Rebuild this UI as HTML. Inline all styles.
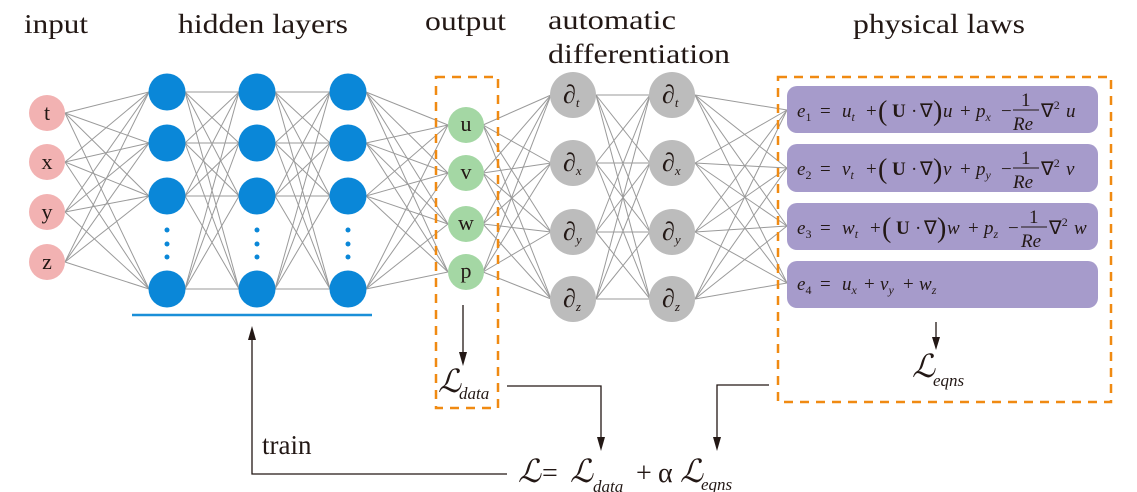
<!DOCTYPE html>
<html><head><meta charset="utf-8"><style>
html,body{margin:0;padding:0;background:#fff;}
svg{display:block;}
.lbl{font-family:"Liberation Serif",serif;font-size:27px;fill:#231815;}
.nd{font-family:"Liberation Serif",serif;font-size:22px;fill:#231815;text-anchor:middle;}
.eq{font-family:"Liberation Serif",serif;font-size:19px;fill:#231815;font-style:italic;}
.up{font-style:normal;}
.sub{font-size:12px;}
</style></head><body>
<svg id="s" width="1137" height="492" viewBox="0 0 1137 492" xmlns="http://www.w3.org/2000/svg">
<g id="edges" stroke="#9a9a9a" stroke-width="1" fill="none"></g>

<text class="lbl" x="24" y="33" textLength="64" lengthAdjust="spacingAndGlyphs">input</text>
<text class="lbl" x="178" y="33" textLength="170" lengthAdjust="spacingAndGlyphs">hidden layers</text>
<text class="lbl" x="425" y="30" textLength="81" lengthAdjust="spacingAndGlyphs">output</text>
<text class="lbl" x="548" y="29" textLength="128" lengthAdjust="spacingAndGlyphs">automatic</text>
<text class="lbl" x="548" y="63" textLength="182" lengthAdjust="spacingAndGlyphs">differentiation</text>
<text class="lbl" x="853" y="33" textLength="172" lengthAdjust="spacingAndGlyphs">physical laws</text>

<rect x="436" y="77" width="62" height="331" fill="none" stroke="#f08a12" stroke-width="2.5" stroke-dasharray="9,7"/>
<rect x="778" y="77" width="333" height="325" fill="none" stroke="#f08a12" stroke-width="2.5" stroke-dasharray="9,7"/>

<g id="nodes"></g>

<g fill="#0a87d8">
<circle cx="167" cy="230" r="2.5"/><circle cx="167" cy="244" r="2.5"/><circle cx="167" cy="257" r="2.5"/>
<circle cx="257" cy="230" r="2.5"/><circle cx="257" cy="244" r="2.5"/><circle cx="257" cy="257" r="2.5"/>
<circle cx="348" cy="230" r="2.5"/><circle cx="348" cy="244" r="2.5"/><circle cx="348" cy="257" r="2.5"/>
</g>
<line x1="132" y1="315" x2="372" y2="315" stroke="#1a8fd8" stroke-width="2.5"/>

<g fill="#a69bcb">
<rect x="787" y="86" width="311" height="47" rx="10"/>
<rect x="787" y="144" width="311" height="48" rx="10"/>
<rect x="787" y="203" width="311" height="47" rx="10"/>
<rect x="787" y="261" width="311" height="47" rx="10"/>
</g>

<g class="eq">
 <g>
  <text x="797" y="117">e<tspan class="sub up" dy="4">1</tspan><tspan class="up" dy="-4" x="820">=</tspan><tspan x="842">u</tspan><tspan class="sub" dy="4">t</tspan><tspan class="up" dy="-4" x="866">+</tspan><tspan class="up" x="878" font-size="28" dy="3">(</tspan><tspan class="up" font-weight="bold" x="892" dy="-3">U</tspan><tspan class="up" x="911">·</tspan><tspan class="up" x="920">∇</tspan><tspan class="up" x="933" font-size="28" dy="3">)</tspan><tspan x="943" dy="-3">u</tspan><tspan class="up" x="960">+</tspan><tspan x="976">p</tspan><tspan class="sub" dy="4">x</tspan><tspan class="up" x="1001" dy="-4">−</tspan></text>
  <text x="1021" y="106" class="up">1</text><line x1="1013" y1="110" x2="1039" y2="110" stroke="#231815"/><text x="1013" y="130">Re</text>
  <text x="1041" y="117" class="up">∇<tspan class="sub" dy="-8">2</tspan><tspan dy="8" font-style="italic" x="1066">u</tspan></text>
 </g>
 <g transform="translate(0,58)">
  <text x="797" y="117">e<tspan class="sub up" dy="4">2</tspan><tspan class="up" dy="-4" x="820">=</tspan><tspan x="842">v</tspan><tspan class="sub" dy="4">t</tspan><tspan class="up" dy="-4" x="866">+</tspan><tspan class="up" x="878" font-size="28" dy="3">(</tspan><tspan class="up" font-weight="bold" x="892" dy="-3">U</tspan><tspan class="up" x="911">·</tspan><tspan class="up" x="920">∇</tspan><tspan class="up" x="933" font-size="28" dy="3">)</tspan><tspan x="943" dy="-3">v</tspan><tspan class="up" x="960">+</tspan><tspan x="976">p</tspan><tspan class="sub" dy="4">y</tspan><tspan class="up" x="1001" dy="-4">−</tspan></text>
  <text x="1021" y="106" class="up">1</text><line x1="1013" y1="110" x2="1039" y2="110" stroke="#231815"/><text x="1013" y="130">Re</text>
  <text x="1041" y="117" class="up">∇<tspan class="sub" dy="-8">2</tspan><tspan dy="8" font-style="italic" x="1066">v</tspan></text>
 </g>
 <g transform="translate(0,117)">
  <text x="797" y="117">e<tspan class="sub up" dy="4">3</tspan><tspan class="up" dy="-4" x="820">=</tspan><tspan x="842">w</tspan><tspan class="sub" dy="4">t</tspan><tspan class="up" dy="-4" x="870">+</tspan><tspan class="up" x="882" font-size="28" dy="3">(</tspan><tspan class="up" font-weight="bold" x="896" dy="-3">U</tspan><tspan class="up" x="915">·</tspan><tspan class="up" x="924">∇</tspan><tspan class="up" x="937" font-size="28" dy="3">)</tspan><tspan x="947" dy="-3">w</tspan><tspan class="up" x="968">+</tspan><tspan x="984">p</tspan><tspan class="sub" dy="4">z</tspan><tspan class="up" x="1008" dy="-4">−</tspan></text>
  <text x="1029" y="106" class="up">1</text><line x1="1021" y1="110" x2="1047" y2="110" stroke="#231815"/><text x="1021" y="130">Re</text>
  <text x="1049" y="117" class="up">∇<tspan class="sub" dy="-8">2</tspan><tspan dy="8" font-style="italic" x="1074">w</tspan></text>
 </g>
  <text x="797" y="290">e<tspan class="sub up" dy="4">4</tspan><tspan class="up" dy="-4" x="820">=</tspan><tspan x="842">u</tspan><tspan class="sub" dy="4">x</tspan><tspan class="up" dy="-4" x="864">+</tspan><tspan x="880">v</tspan><tspan class="sub" dy="4">y</tspan><tspan class="up" dy="-4" x="903">+</tspan><tspan x="919">w</tspan><tspan class="sub" dy="4">z</tspan></text>
</g>

<g stroke="#231815" stroke-width="1.3" fill="none">
<line x1="463" y1="305" x2="463" y2="355"/>
<line x1="936" y1="322" x2="936" y2="340"/>
<polyline points="507,386 601,386 601,440"/>
<polyline points="769,385 717,385 717,440"/>
<polyline points="507,474 252,474 252,340"/>
</g>
<g fill="#231815">
<polygon points="459,352 467,352 463,366"/>
<polygon points="932,337 940,337 936,350"/>
<polygon points="597,437 605,437 601,451"/>
<polygon points="713,437 721,437 717,451"/>
<polygon points="248,340 256,340 252,326"/>
</g>

<g font-family="'Liberation Serif','DejaVu Serif',serif" fill="#231815">
<text x="438" y="392" font-size="32" font-style="italic">ℒ</text>
<text x="459" y="399" font-size="17" font-style="italic">data</text>
<text x="912" y="377" font-size="32" font-style="italic">ℒ</text>
<text x="933" y="386" font-size="17" font-style="italic">eqns</text>
<text x="262" y="454" font-size="27">train</text>
<text x="518" y="482" font-size="32" font-style="italic">ℒ</text>
<text x="542" y="482" font-size="28">=</text>
<text x="570" y="482" font-size="32" font-style="italic">ℒ</text>
<text x="593" y="492" font-size="17" font-style="italic">data</text>
<text x="636" y="482" font-size="28">+</text>
<text x="658" y="482" font-size="28">α</text>
<text x="680" y="482" font-size="32" font-style="italic">ℒ</text>
<text x="701" y="490" font-size="17" font-style="italic">eqns</text>
</g>
</svg>
<script>
(function(){
var NS="http://www.w3.org/2000/svg";
var E=document.getElementById("edges"),N=document.getElementById("nodes");
function L(x1,y1,x2,y2){var l=document.createElementNS(NS,"line");l.setAttribute("x1",x1);l.setAttribute("y1",y1);l.setAttribute("x2",x2);l.setAttribute("y2",y2);E.appendChild(l);}
function C(x,y,r,f){var c=document.createElementNS(NS,"circle");c.setAttribute("cx",x);c.setAttribute("cy",y);c.setAttribute("r",r);c.setAttribute("fill",f);N.appendChild(c);}
function T(x,y,s,cls){var t=document.createElementNS(NS,"text");t.setAttribute("x",x);t.setAttribute("y",y);t.setAttribute("class",cls||"nd");t.textContent=s;N.appendChild(t);}
var inp=[113,162,212,262],hid=[92,143,196,289],out=[125,173,224,272],gr=[95,163,232,299],bx=[110,168,226,283];
var hx=[167,257,348];
function full(xa,ya,xb,yb){ya.forEach(function(a){yb.forEach(function(b){L(xa,a,xb,b);});});}
full(65,inp,149,hid);
full(185,hid,239,hid);
full(275,hid,330,hid);
full(366,hid,448,out);
full(483,out,551,gr);
full(596,gr,650,gr);
full(695,gr,787,bx);
var lab=["t","x","y","z"];
inp.forEach(function(y,i){C(47,y,18,"#f2b2b2");T(47,y+7,lab[i]);});
hx.forEach(function(x){hid.forEach(function(y){C(x,y,18.5,"#0a87d8");});});
var ol=["u","v","w","p"];
out.forEach(function(y,i){C(466,y,18,"#a4d7a4");T(466,y+6,ol[i]);});
[573,672].forEach(function(x){gr.forEach(function(y,i){C(x,y,23,"#bcbcbc");
var t=document.createElementNS(NS,"text");t.setAttribute("x",x-10);t.setAttribute("y",y+8);t.setAttribute("font-family","'Liberation Serif','DejaVu Serif',serif");t.setAttribute("font-size","26");t.setAttribute("font-style","italic");t.setAttribute("fill","#231815");t.textContent="∂";
var s=document.createElementNS(NS,"tspan");s.setAttribute("font-size","13");s.setAttribute("dy","4");s.textContent=lab[i];t.appendChild(s);N.appendChild(t);});});
})();
</script>
</body></html>
